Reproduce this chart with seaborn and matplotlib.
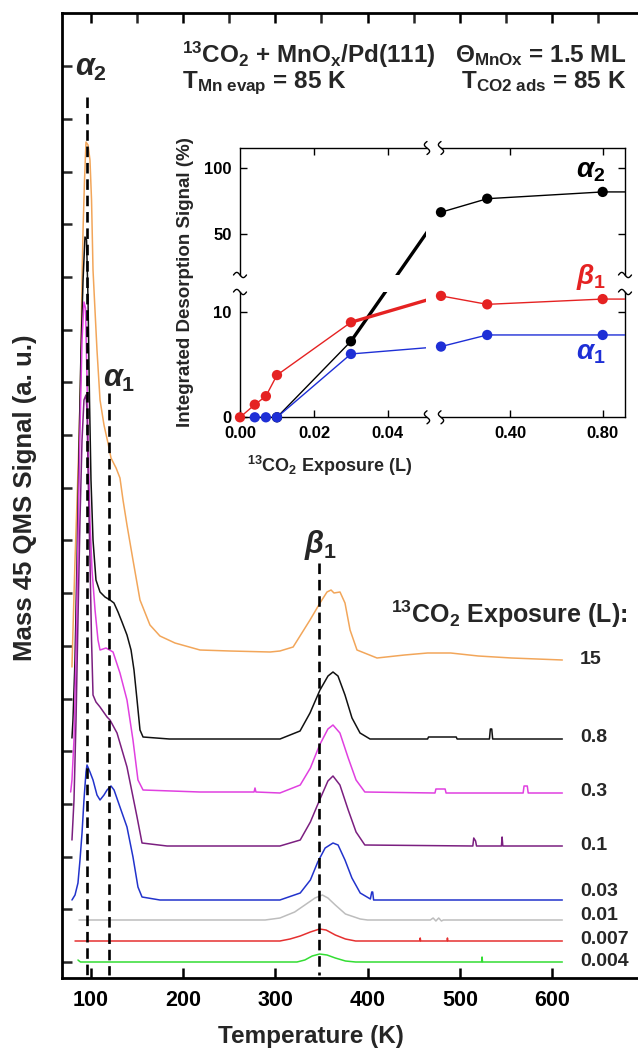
import matplotlib
matplotlib.use("Agg")
import numpy as np
import matplotlib.pyplot as plt
from matplotlib.lines import Line2D
import seaborn as sns

# ---------------- data: TPD traces (T in K, signal in a.u.) ----------------
exposure_labels = ["15", "0.8", "0.3", "0.1", "0.03", "0.01", "0.007", "0.004"]
trace_colors = ["#F2A65A", "#111111", "#E040E0", "#7B1F80", "#2233CC", "#BDBDBD", "#E53030", "#33DD33"]

T_15 = [79.7, 80.8, 83.0, 85.2, 87.3, 89.0, 90.6, 91.7, 93.3, 94.9, 97.1, 99.2, 100.9, 102.5, 104.1, 106.8,
        110.1, 114.4, 118.7, 122.0, 127.5, 131.7, 135.0, 139.3, 145.8, 153.4, 164.2, 175.0, 191.3, 218.4,
        250.9, 294.3, 305.0, 319.3, 337.6, 348.4, 356.0, 360.4, 363.6, 370.1, 375.5, 381.0, 388.5, 410.2,
        440.0, 465.0, 490.0, 520.0, 556.0, 611.0]
S_15 = [311, 348, 418, 478, 538, 598, 698, 748, 798, 836, 833, 818, 778, 708, 678, 628, 578, 553, 535, 520,
        510, 500, 478, 453, 418, 378, 353, 342, 335, 328, 327, 326, 327, 331, 358, 375, 386, 388, 385, 386,
        375, 348, 328, 320, 323, 325, 325, 322, 320, 318]

T_08 = [79.7, 80.8, 83.0, 85.2, 87.3, 89.5, 91.7, 93.8, 95.5, 97.1, 98.7, 100.3, 102.5, 105.7, 110.1, 115.5,
        120.9, 125.2, 129.6, 133.9, 139.3, 143.7, 146.9, 150.2, 153.4, 156.7, 185.2, 305.1, 326.8, 337.6,
        348.4, 357.1, 362.5, 367.9, 375.5, 383.1, 391.8, 402.6, 465.0, 466.0, 496.0, 497.0, 532.0, 533.0,
        534.5, 535.5, 611.0]
S_08 = [240, 258, 318, 418, 528, 628, 698, 741, 738, 678, 578, 498, 438, 398, 386, 381, 378, 375, 366, 356,
        343, 328, 308, 278, 248, 241, 239, 239, 247, 265, 288, 302, 306, 302, 283, 260, 245, 239, 239, 241,
        241, 239, 239, 249, 249, 239, 239]

T_03 = [78.3, 79.7, 81.9, 84.1, 86.2, 88.4, 90.6, 92.7, 94.4, 96.0, 97.6, 99.2, 101.4, 104.7, 107.9, 110.1,
        116.6, 124.2, 131.7, 139.3, 145.8, 151.2, 156.7, 218.4, 277.0, 278.0, 279.0, 305.0, 327.0, 338.0,
        348.0, 357.0, 362.5, 370.0, 379.0, 387.5, 397.0, 473.0, 474.0, 484.0, 485.0, 568.5, 569.5, 573.0,
        574.0, 611.0]
S_03 = [186, 198, 238, 328, 438, 548, 638, 676, 670, 598, 518, 458, 408, 368, 338, 328, 330, 326, 305, 278,
        238, 198, 188, 186, 186, 190, 186, 185, 193, 210, 233, 249, 253, 245, 220, 198, 186, 185, 189, 189,
        185, 185, 192, 192, 185, 185]

T_01 = [79.7, 81.9, 84.1, 86.2, 88.4, 90.6, 92.7, 94.9, 96.0, 97.1, 99.2, 100.9, 102.5, 105.7, 110.1, 117.7,
        120.9, 128.5, 139.3, 150.2, 155.6, 182.7, 305.0, 327.0, 338.0, 348.0, 357.0, 362.5, 370.0, 379.0,
        387.5, 397.0, 514.0, 515.0, 517.0, 518.0, 545.0, 545.7, 546.5, 611.0]
S_01 = [138, 178, 258, 358, 458, 538, 578, 583, 568, 508, 418, 338, 283, 276, 271, 261, 258, 245, 211, 161,
        135, 132, 132, 138, 156, 178, 197, 202, 193, 168, 146, 133, 132, 140, 137, 132, 132, 141, 132, 132]

T_003 = [79.7, 83.0, 86.2, 88.4, 90.6, 92.7, 94.9, 96.0, 99.2, 102.5, 106.8, 110.1, 114.4, 117.7, 122.0,
         125.3, 131.7, 139.3, 145.8, 151.2, 155.6, 175.0, 305.0, 327.0, 338.0, 346.0, 354.0, 362.5, 368.0,
         375.5, 383.0, 392.0, 403.0, 404.5, 405.5, 406.5, 611.0]
S_003 = [78, 83, 95, 118, 145, 178, 206, 213, 206, 198, 183, 178, 183, 188, 192, 188, 171, 151, 121, 91, 81,
         78, 78, 85, 98, 116, 130, 135, 133, 118, 100, 85, 79, 86, 86, 78, 78]

T_001 = [87.3, 289.0, 305.0, 321.0, 332.0, 343.0, 351.0, 357.0, 365.0, 376.0, 392.0, 400.0, 468.0, 471.0,
         474.0, 477.0, 480.0, 482.0, 611.0]
S_001 = [58, 58, 60, 66, 73, 80, 83, 80, 73, 64, 59, 58, 58, 60, 57, 60, 57, 58, 58]

T_0007 = [83.0, 305.0, 316.0, 327.0, 338.0, 348.0, 355.0, 365.0, 376.0, 387.0, 456.5, 457.0, 457.5, 486.0,
          486.5, 487.0, 611.0]
S_0007 = [37, 37, 39, 42, 46, 49, 48, 43, 39, 37, 37, 40, 37, 37, 40, 37, 37]

T_0004 = [86.2, 87.5, 89.0, 323.5, 332.0, 340.0, 348.0, 356.0, 365.0, 376.0, 387.0, 523.5, 524.0, 524.5, 611.0]
S_0004 = [18, 17, 16, 16, 18, 22, 24, 23, 20, 17, 16, 16, 21, 16, 16]

traces_T = [T_15, T_08, T_03, T_01, T_003, T_001, T_0007, T_0004]
traces_S = [S_15, S_08, S_03, S_01, S_003, S_001, S_0007, S_0004]

# peak positions (K) of the dashed guide lines
peak_names = [r"$\alpha_2$", r"$\alpha_1$", r"$\beta_1$"]
peak_T = [96.3, 119.8, 347.7]

# ---------------- data: inset (integrated desorption signal, %) ----------------
inset_exposure = [0.0, 0.004, 0.007, 0.01, 0.03, 0.1, 0.3, 0.8, 15.0]
alpha2_pct = [np.nan, np.nan, np.nan, 0.0, 7.2, 66.4, 76.6, 81.7, 81.7]
alpha1_pct = [np.nan, 0.0, 0.0, 0.0, 6.0, 6.7, 7.8, 7.8, 7.8]
beta1_pct = [0.0, 1.2, 2.0, 4.0, 9.0, 11.5, 10.7, 11.2, 11.1]

# ---------------- style ----------------
sns.set_theme(style="ticks")
plt.rcParams["font.family"] = ["Liberation Sans", "DejaVu Sans"]
plt.rcParams["font.weight"] = "bold"
plt.rcParams["mathtext.fontset"] = "custom"
plt.rcParams["mathtext.rm"] = "Liberation Sans:bold"
plt.rcParams["mathtext.it"] = "Liberation Sans:italic:bold"
plt.rcParams["mathtext.bf"] = "Liberation Sans:bold"
plt.rcParams["mathtext.sf"] = "Liberation Sans:bold"

W, H = 638, 1051
fig = plt.figure(figsize=(W / 100, H / 100), dpi=100)
fig.patch.set_facecolor("white")


def fx(px):
    return px / W


def fy(py):
    return 1 - py / H


def fbox(x0, y0, x1, y1):
    return [x0 / W, 1 - y1 / H, (x1 - x0) / W, (y1 - y0) / H]


# ---------------- main axes ----------------
ax = fig.add_axes(fbox(62, 13, 644.5, 978))
ax.set_facecolor("white")
for T, S, c in zip(traces_T, traces_S, trace_colors):
    sns.lineplot(x=T, y=S, ax=ax, color=c, lw=1.1, estimator=None, sort=False, legend=False)

dash_top = [881, 585, 415]
for t, top in zip(peak_T, dash_top):
    sns.lineplot(x=[t, t], y=[top, 3], ax=ax, color="black", lw=1.9, estimator=None, sort=False,
                 legend=False, linestyle=(0, (4, 2.2)))

ax.set_xticks([100, 200, 300, 400, 500, 600])
ax.set_xticks(np.arange(100, 701, 50), minor=True)
ax.set_yticks([16 + 52.7 * k for k in range(18)])
ax.set_yticklabels([])
ax.set_xlim(68.9, 700)
ax.set_ylim(0, 965)
ax.tick_params(axis="x", which="major", direction="in", top=True, bottom=True, length=7, width=1.8,
               labelsize=15.5, pad=9, colors="black")
ax.tick_params(axis="x", which="minor", direction="in", top=True, bottom=False, length=7, width=1.8)
ax.tick_params(axis="y", which="major", direction="in", left=True, right=False, length=7, width=1.8)
for lab in ax.get_xticklabels():
    lab.set_fontweight("bold")
for s in ax.spines.values():
    s.set_linewidth(2.0)
    s.set_color("black")

# peak labels
fig.text(fx(75), fy(76), peak_names[0], fontsize=22, va="baseline", ha="left")
fig.text(fx(103), fy(387), peak_names[1], fontsize=22, va="baseline", ha="left")
fig.text(fx(304), fy(553), peak_names[2], fontsize=22, va="baseline", ha="left")

# header texts
fig.text(fx(182), fy(63), r"$^{13}$CO$_2$ + MnO$_{\mathrm{x}}$/Pd(111)", fontsize=17.5, va="baseline")
fig.text(fx(182), fy(88), r"T$_{\mathrm{Mn\ evap}}$ = 85 K", fontsize=17.5, va="baseline")
fig.text(fx(455), fy(62), r"$\Theta_{\mathrm{MnOx}}$ = 1.5 ML", fontsize=17.5, va="baseline")
fig.text(fx(461), fy(88), r"T$_{\mathrm{CO2\ ads}}$ = 85 K", fontsize=17.5, va="baseline")

# exposure labels
fig.text(fx(627), fy(623), r"$^{13}$CO$_2$ Exposure (L):", fontsize=18, ha="right", va="baseline")
label_y = [659, 738, 792, 845, 892, 916, 939, 962]
for lab, py in zip(exposure_labels, label_y):
    fig.text(fx(580), fy(py), lab, fontsize=14, ha="left", va="center")

# axis labels
fig.text(fx(25), fy(498), "Mass 45 QMS Signal (a. u.)", rotation=90, ha="center", va="center", fontsize=18.5)
fig.text(fx(311), fy(1036), "Temperature (K)", ha="center", va="center", fontsize=17.5)

# ---------------- inset (broken axes) ----------------
LO_MAX, UP_MIN = 11.87, 19.1
ll = fig.add_axes(fbox(240, 292, 426, 417.3))
lu = fig.add_axes(fbox(240, 148, 426, 275))
rl = fig.add_axes(fbox(441, 292, 625, 417.3))
ru = fig.add_axes(fbox(441, 148, 625, 275))
for a in (ll, lu):
    a.set_xlim(0, 0.0503)
for a in (rl, ru):
    a.set_xlim(0.1, 0.8966)
for a in (ll, rl):
    a.set_ylim(0, LO_MAX)
for a in (lu, ru):
    a.set_ylim(UP_MIN, 114.8)
for a in (ll, lu, rl, ru):
    a.set_facecolor("none")
    for s in a.spines.values():
        s.set_linewidth(1.0)
        s.set_color("black")
ll.spines[["top", "right"]].set_visible(False)
lu.spines[["bottom", "right"]].set_visible(False)
rl.spines[["top", "left"]].set_visible(False)
ru.spines[["bottom", "left"]].set_visible(False)

tick_kw = dict(direction="in", length=5, width=1.0, labelsize=12, colors="black")
ll.set_xticks([0, 0.02, 0.04])
ll.set_xticklabels(["0.00", "0.02", "0.04"])
ll.set_yticks([0, 10])
ll.tick_params(axis="both", left=True, bottom=True, right=False, top=False, pad=6, **tick_kw)
lu.set_xticks([0.02, 0.04])
lu.set_yticks([50, 100])
lu.tick_params(axis="x", top=True, bottom=False, labelbottom=False, **tick_kw)
lu.tick_params(axis="y", left=True, right=False, pad=6, **tick_kw)
rl.set_xticks([0.4, 0.8])
rl.set_xticklabels(["0.40", "0.80"])
rl.set_yticks([10])
rl.tick_params(axis="x", bottom=True, top=False, pad=6, **tick_kw)
rl.tick_params(axis="y", left=False, right=True, labelleft=False, **tick_kw)
ru.set_xticks([0.4, 0.8])
ru.set_yticks([50, 100])
ru.tick_params(axis="x", top=True, bottom=False, labelbottom=False, **tick_kw)
ru.tick_params(axis="y", left=False, right=True, labelleft=False, **tick_kw)
for a in (ll, lu, rl, ru):
    for lab in a.get_xticklabels() + a.get_yticklabels():
        lab.set_fontweight("bold")


def home(x, y):
    left = x <= 0.05
    upper = y >= 15
    if left:
        return lu if upper else ll
    return ru if upper else rl


series = [(alpha2_pct, "black", 2.4, 3), (alpha1_pct, "#1E2FD6", 1.0, 4), (beta1_pct, "#E52222", 2.4, 5)]
xs = np.array(inset_exposure)
for vals, col, bridge_lw, z in series:
    v = np.array(vals, dtype=float)
    ok = ~np.isnan(v)
    x_ok, v_ok = xs[ok], v[ok]
    left = x_ok <= 0.05
    right = ~left
    for a in (ll, lu):
        sns.lineplot(x=x_ok[left], y=v_ok[left], ax=a, color=col, lw=1.0, estimator=None, sort=False,
                     legend=False, zorder=z)
    for a in (rl, ru):
        sns.lineplot(x=x_ok[right], y=v_ok[right], ax=a, color=col, lw=1.0, estimator=None, sort=False,
                     legend=False, zorder=z)
    # bridge across the x break
    A = (x_ok[left][-1], v_ok[left][-1])
    B = (x_ok[right][0], v_ok[right][0])
    pA = home(*A).transData.transform(A)
    pB = home(*B).transData.transform(B)
    for a in (ll, lu):
        pts = a.transData.inverted().transform(np.array([pA, pB]))
        sns.lineplot(x=pts[:, 0], y=pts[:, 1], ax=a, color=col, lw=bridge_lw, estimator=None, sort=False,
                     legend=False, zorder=z)
    # markers
    for xv, yv in zip(x_ok, v_ok):
        a = home(xv, yv)
        if xv <= a.get_xlim()[1]:
            sns.scatterplot(x=[xv], y=[yv], ax=a, color=col, s=55, edgecolor="none", clip_on=False,
                            zorder=z + 5, legend=False)

for a, xl, yl in ((ll, (0, 0.0503), (0, LO_MAX)), (lu, (0, 0.0503), (UP_MIN, 114.8)),
                  (rl, (0.1, 0.8966), (0, LO_MAX)), (ru, (0.1, 0.8966), (UP_MIN, 114.8))):
    a.set_xlim(*xl)
    a.set_ylim(*yl)


# break marks
def squiggle(xp, yp, vertical):
    t = np.linspace(-1, 1, 40)
    if vertical:
        xx = xp + 2.6 * np.sin(np.pi * t)
        yy = yp + 6.5 * t
    else:
        xx = xp + 6.5 * t
        yy = yp + 2.6 * np.sin(np.pi * t)
    fig.add_artist(Line2D(xx / W, 1 - yy / H, color="black", lw=1.0, transform=fig.transFigure))


for xb in (427, 441):
    for yb in (148, 417.3):
        squiggle(xb, yb, True)
for xb in (240, 625):
    for yb in (275, 292):
        squiggle(xb, yb, False)

# inset labels
fig.text(fx(185), fy(282), "Integrated Desorption Signal (%)", rotation=90, ha="center", va="center",
         fontsize=13.5)
fig.text(fx(330), fy(466), r"$^{13}$CO$_2$ Exposure (L)", ha="center", va="center", fontsize=13)
fig.text(fx(576), fy(177), r"$\alpha_2$", fontsize=20, color="black", va="baseline")
fig.text(fx(576), fy(284), r"$\beta_1$", fontsize=20, color="#E52222", va="baseline")
fig.text(fx(576), fy(359), r"$\alpha_1$", fontsize=20, color="#1E2FD6", va="baseline")

fig.savefig("out.png", dpi=100)
